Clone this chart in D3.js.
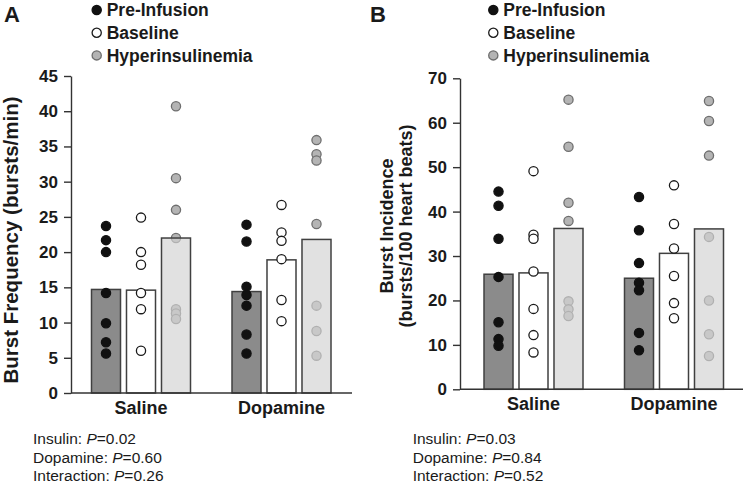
<!DOCTYPE html>
<html><head><meta charset="utf-8">
<script src="https://cdn.jsdelivr.net/npm/d3@7"></script>
<style>
body{margin:0;background:#fff;}
svg text{font-family:"Liberation Sans",Arial,Helvetica,sans-serif;fill:#1a1a1a;}
</style></head><body>
<svg id="chart" width="744" height="487"></svg>
<script>
// ---------- data ----------
const groups = ["Saline", "Dopamine"];
const conditions = ["Pre-Infusion", "Baseline", "Hyperinsulinemia"];
const statLabels = ["Insulin", "Dopamine", "Interaction"];

// Panel A: Burst Frequency (bursts/min)
const freqTicks = [0, 5, 10, 15, 20, 25, 30, 35, 40, 45];
const freqMeanSaline = [14.7, 14.6, 22.0];
const freqMeanDopamine = [14.4, 18.9, 21.8];
const freqSalinePre = [23.7, 21.7, 20.0, 14.2, 9.9, 7.2, 5.6];
const freqSalineBase = [24.9, 20.0, 18.2, 14.2, 11.9, 6.0];
const freqSalineHyper = [40.7, 30.5, 26.0, 22.0, 11.9, 11.3, 10.5];
const freqDopaminePre = [23.9, 21.5, 15.1, 13.9, 12.4, 8.3, 5.6];
const freqDopamineBase = [26.7, 22.8, 21.6, 19.0, 13.2, 10.2];
const freqDopamineHyper = [35.9, 33.9, 33.0, 24.0, 12.4, 8.8, 5.3];
const freqP = ["0.02", "0.60", "0.26"];

// Panel B: Burst Incidence (bursts/100 heart beats)
const incTicks = [0, 10, 20, 30, 40, 50, 60, 70];
const incMeanSaline = [25.9, 26.2, 36.2];
const incMeanDopamine = [25.0, 30.6, 36.1];
const incSalinePre = [44.5, 41.3, 33.9, 25.3, 15.1, 11.3, 9.8];
const incSalineBase = [49.1, 34.8, 33.9, 26.5, 18.1, 12.2, 8.3];
const incSalineHyper = [65.2, 54.6, 42.0, 37.9, 19.8, 18.0, 16.5];
const incDopaminePre = [43.3, 35.8, 28.4, 24.0, 22.3, 12.7, 8.8];
const incDopamineBase = [45.9, 37.2, 31.7, 25.5, 19.4, 16.0];
const incDopamineHyper = [64.9, 60.4, 52.6, 34.3, 20.0, 12.4, 7.5];
const incP = ["0.03", "0.84", "0.52"];

// ---------- styles ----------
const barFill = {"Pre-Infusion": "#8b8b8b", "Baseline": "#ffffff", "Hyperinsulinemia": "#d2d2d2"};
const barOpacity = {"Pre-Infusion": 1, "Baseline": 1, "Hyperinsulinemia": 0.667};
const dotFill = {"Pre-Infusion": "#111111", "Baseline": "#ffffff", "Hyperinsulinemia": "#b4b4b4"};
const dotStroke = {"Pre-Infusion": "#111111", "Baseline": "#1a1a1a", "Hyperinsulinemia": "#6e6e6e"};

const svg = d3.select("#chart");

function drawPanel(cfg) {
  const g = svg.append("g");
  const y = d3.scaleLinear().domain(cfg.domain).range([cfg.y0, cfg.y1]);
  const x = d3.scalePoint().domain(groups).range([cfg.axisX + cfg.firstOffset, cfg.axisX + cfg.firstOffset + 140.5]);
  const inner = d3.scaleBand().domain(conditions).range([-49.5, 49.5]).paddingInner(0.171);

  const means = {Saline: cfg.meanSaline, Dopamine: cfg.meanDopamine};
  const pts = {Saline: cfg.ptsSaline, Dopamine: cfg.ptsDopamine};

  const barData = [];
  const dotData = [];
  groups.forEach(gr => {
    conditions.forEach((c, i) => {
      barData.push({gr, c, v: means[gr][i]});
      pts[gr][i].forEach(v => dotData.push({gr, c, v}));
    });
  });
  const cx = d => x(d.gr) + inner(d.c) + inner.bandwidth() / 2;

  const drawDots = data => g.append("g").selectAll("circle").data(data).join("circle")
    .attr("cx", cx).attr("cy", d => y(d.v)).attr("r", 4.6)
    .attr("fill", d => dotFill[d.c]).attr("stroke", d => dotStroke[d.c]).attr("stroke-width", 1.3);

  // hyperinsulinemia dots sit behind the translucent bar
  drawDots(dotData.filter(d => d.c === "Hyperinsulinemia"));

  g.append("g").selectAll("rect").data(barData).join("rect")
    .attr("x", d => x(d.gr) + inner(d.c))
    .attr("width", inner.bandwidth())
    .attr("y", d => y(d.v))
    .attr("height", d => y(0) - y(d.v))
    .attr("fill", d => barFill[d.c])
    .attr("fill-opacity", d => barOpacity[d.c])
    .attr("stroke", "#404040").attr("stroke-width", 1.5);

  drawDots(dotData.filter(d => d.c !== "Hyperinsulinemia"));

  // y axis
  const ax = g.append("g").attr("transform", `translate(${cfg.axisX},0)`)
    .call(d3.axisLeft(y).tickValues(cfg.ticks).tickSize(7).tickPadding(6).tickSizeOuter(0));
  ax.select(".domain").attr("stroke", "#333").attr("stroke-width", 1.4);
  ax.selectAll(".tick line").attr("stroke", "#333").attr("stroke-width", 1.4);
  ax.selectAll(".tick text").style("font-size", "17px").style("font-weight", "bold").attr("fill", "#1a1a1a");

  // x axis line
  g.append("line").attr("x1", cfg.axisX).attr("x2", cfg.axisEnd)
    .attr("y1", y(0)).attr("y2", y(0)).attr("stroke", "#333").attr("stroke-width", 1.4);

  // category labels
  g.append("g").selectAll("text").data(groups).join("text")
    .attr("x", d => x(d)).attr("y", y(0) + 20.5)
    .attr("text-anchor", "middle").style("font-size", "18px").style("font-weight", "bold")
    .text(d => d);

  // y label
  const yl = g.append("text")
    .attr("transform", `translate(${cfg.labelX},${cfg.labelY}) rotate(-90)`)
    .attr("text-anchor", "middle").style("font-size", cfg.labelSize).style("font-weight", "bold");
  cfg.label.forEach((t, i) => yl.append("tspan").attr("x", 0).attr("dy", i === 0 ? 0 : "1.05em").text(t));

  // panel letter
  g.append("text").attr("x", cfg.letterX).attr("y", 22).style("font-size", "22px").style("font-weight", "bold").text(cfg.letter);

  // legend
  const lg = g.append("g").selectAll("g").data(conditions).join("g")
    .attr("transform", (d, i) => `translate(${cfg.legendX},${10 + i * 22.7})`);
  lg.append("circle").attr("r", 4.6).attr("fill", d => dotFill[d]).attr("stroke", d => dotStroke[d]).attr("stroke-width", 1.3);
  lg.append("text").attr("x", 10).attr("y", 6.2).style("font-size", "17.5px").style("font-weight", "bold").text(d => d);

  // stats
  const st = g.append("g").selectAll("text").data(statLabels).join("text")
    .attr("x", cfg.statX).attr("y", (d, i) => 444 + i * 18.5).style("font-size", "15.5px");
  st.append("tspan").text(d => d + ": ");
  st.append("tspan").style("font-style", "italic").text("P");
  st.append("tspan").text((d, i) => "=" + cfg.p[i]);
}

drawPanel({
  letter: "A", letterX: 4, legendX: 96.7, statX: 33,
  domain: [0, 45], y0: 393, y1: 76, ticks: freqTicks,
  axisX: 71, firstOffset: 70, axisEnd: 352,
  meanSaline: freqMeanSaline, meanDopamine: freqMeanDopamine,
  ptsSaline: [freqSalinePre, freqSalineBase, freqSalineHyper],
  ptsDopamine: [freqDopaminePre, freqDopamineBase, freqDopamineHyper],
  label: ["Burst Frequency (bursts/min)"], labelX: 18, labelY: 240, labelSize: "20.5px",
  p: freqP
});

drawPanel({
  letter: "B", letterX: 370, legendX: 493.3, statX: 412.7,
  domain: [0, 70], y0: 389.3, y1: 78.3, ticks: incTicks,
  axisX: 460, firstOffset: 73.5, axisEnd: 743,
  meanSaline: incMeanSaline, meanDopamine: incMeanDopamine,
  ptsSaline: [incSalinePre, incSalineBase, incSalineHyper],
  ptsDopamine: [incDopaminePre, incDopamineBase, incDopamineHyper],
  label: ["Burst Incidence", "(bursts/100 heart beats)"], labelX: 393, labelY: 226, labelSize: "18px",
  p: incP
});
</script>
</body></html>
